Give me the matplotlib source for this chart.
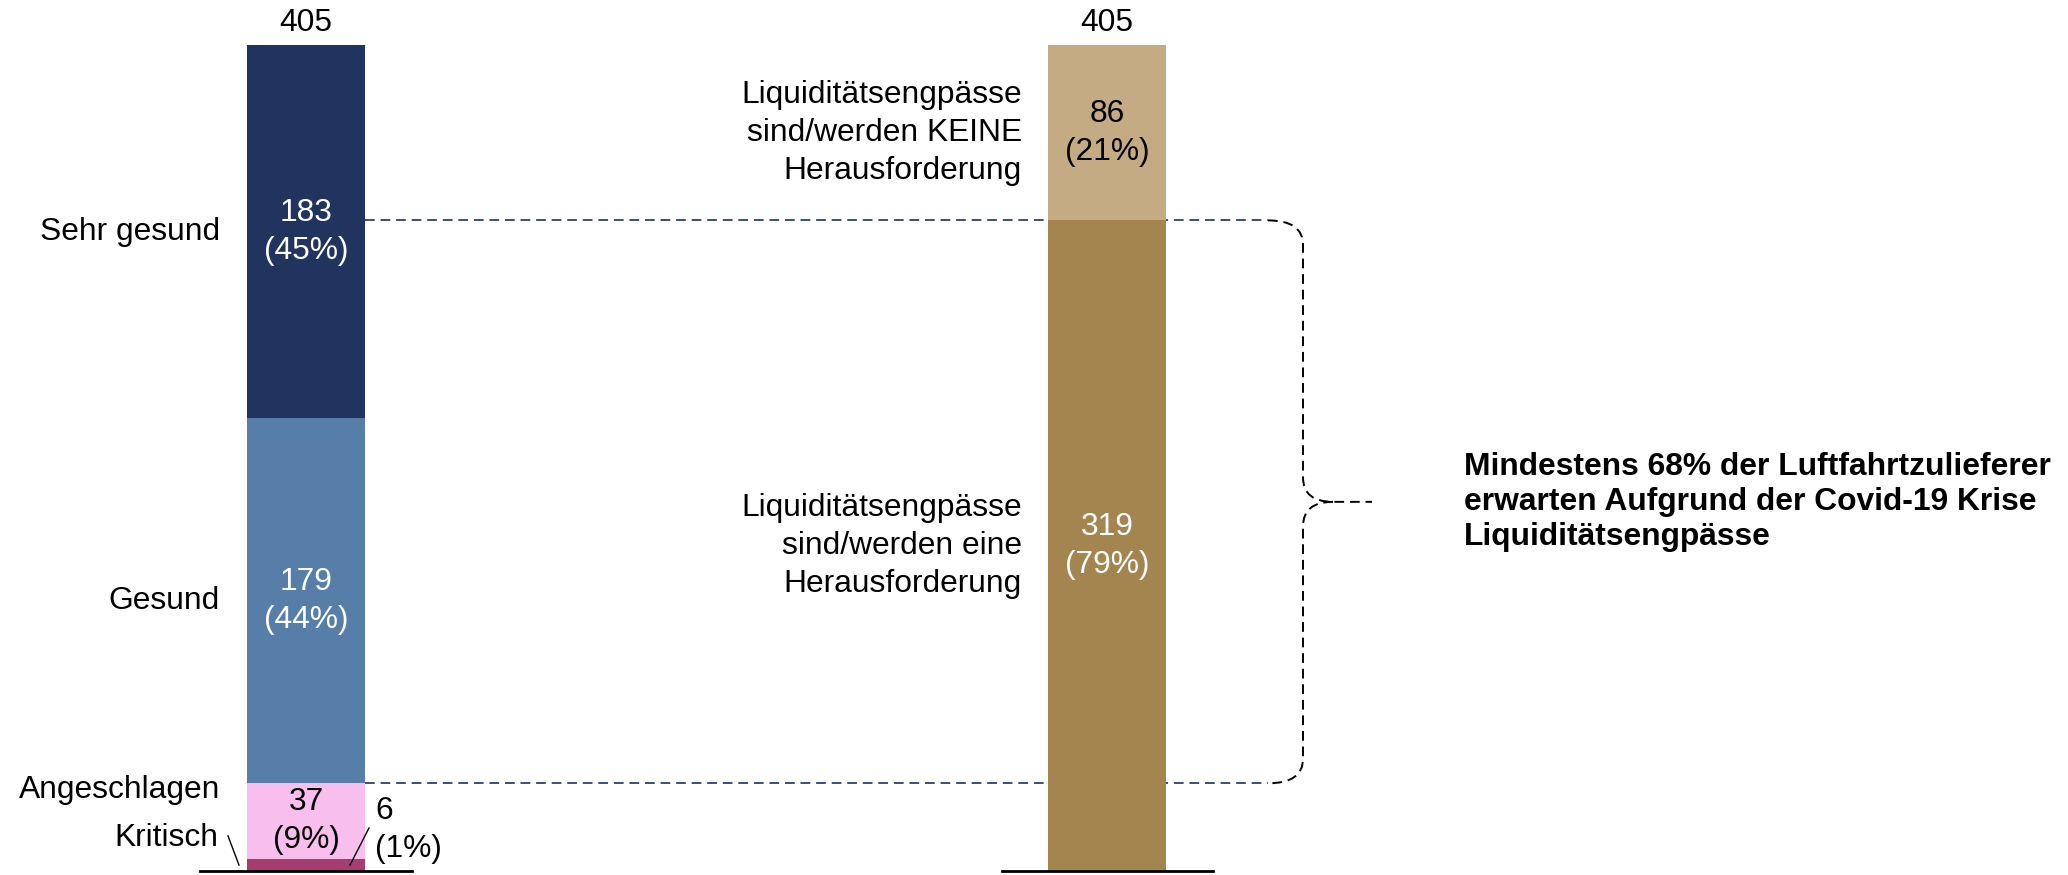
import matplotlib.pyplot as plt
from matplotlib.path import Path
from matplotlib.patches import PathPatch

plt.rcParams['font.family'] = ['Liberation Sans', 'DejaVu Sans']

# left bar: financial health of suppliers (bottom -> top)
health_labels = ['Kritisch', 'Angeschlagen', 'Gesund', 'Sehr gesund']
health_counts = [6, 37, 179, 183]
health_pct = ['1%', '9%', '44%', '45%']
health_colors = ['#A63D6F', '#F8BEEE', '#577EA8', '#21335F']

# right bar: liquidity shortage (bottom -> top)
liq_labels = ['Liquiditätsengpässe\nsind/werden eine\nHerausforderung',
              'Liquiditätsengpässe\nsind/werden KEINE\nHerausforderung']
liq_counts = [319, 86]
liq_pct = ['79%', '21%']
liq_colors = ['#A5854F', '#C5AB83']
liq_text = ['white', 'black']

total = 405
summary = 'Mindestens 68% der Luftfahrtzulieferer\nerwarten Aufgrund der Covid-19 Krise\nLiquiditätsengpässe'

fig = plt.figure(figsize=(20.68, 8.75), dpi=100)
ax = fig.add_axes([0, 0, 1, 1])
ax.set_xlim(0, 2068)
ax.set_ylim(-1.96, 427.06)
ax.axis('off')

fs = 22.9
ls = 1.34
x_left, x_right, w = 306, 1107, 118

# stacked bars
bottom = 0
for lab, c, p, col in zip(health_labels, health_counts, health_pct, health_colors):
    ax.bar(x_left, c, width=w, bottom=bottom, color=col, zorder=3)
    mid = bottom + c / 2
    if lab in ('Gesund', 'Sehr gesund'):
        ax.text(x_left, mid, f'{c}\n({p})', ha='center', va='center', color='white',
                fontsize=fs, linespacing=ls, zorder=4)
        ax.text(220, mid, lab, ha='right', va='center', fontsize=fs)
    elif lab == 'Angeschlagen':
        ax.text(x_left, mid, f'{c}\n({p})', ha='center', va='center', color='black',
                fontsize=fs, linespacing=ls, zorder=4)
        ax.text(220, bottom + c - 3.5, lab, ha='right', va='center', fontsize=fs)
    else:
        ax.text(218, 16.2, lab, ha='right', va='center', fontsize=fs)
        ax.plot([228, 239], [17.2, 2.9], color='black', lw=1, zorder=5)
        ax.text(375, 20, f'{c}\n({p})', ha='left', va='center', fontsize=fs, linespacing=ls)
        ax.plot([369, 350], [21.1, 2.9], color='black', lw=1, zorder=5)
    bottom += c

bottom = 0
for lab, c, p, col, tc in zip(liq_labels, liq_counts, liq_pct, liq_colors, liq_text):
    ax.bar(x_right, c, width=w, bottom=bottom, color=col, zorder=3)
    mid = bottom + c / 2
    ax.text(x_right, mid, f'{c}\n({p})', ha='center', va='center', color=tc,
            fontsize=fs, linespacing=ls, zorder=4)
    ax.text(1022, mid, lab, ha='right', va='center', fontsize=fs, linespacing=ls)
    bottom += c

# totals
for x in (x_left, x_right):
    ax.annotate(str(total), (x, total), xytext=(0, 5), textcoords='offset points',
                ha='center', va='bottom', fontsize=fs)

# baselines
ax.plot([200, 412], [0, 0], color='black', lw=2, zorder=5)
ax.plot([1002, 1213], [0, 0], color='black', lw=2, zorder=5)

# dashed connectors
top_v = liq_counts[0]
bot_v = health_counts[0] + health_counts[1]
mid_v = (top_v + bot_v) / 2
ax.plot([x_left + w / 2, 1268], [top_v, top_v], color='#3B4F7A', lw=1.4,
        dashes=(5, 3), zorder=1)
ax.plot([x_left + w / 2, 1268], [bot_v, bot_v], color='#3B4F7A', lw=1.4,
        dashes=(5, 3), zorder=1)

# brace
xv, xt, r = 1303, 1372, 12
verts = [(1268, top_v), (xv, top_v), (xv, top_v - r),
         (xv, mid_v + r), (xv, mid_v), (xv + 30, mid_v),
         (xt, mid_v),
         (xv + 30, mid_v), (xv, mid_v), (xv, mid_v - r),
         (xv, bot_v + r), (xv, bot_v), (1268, bot_v)]
codes = [Path.MOVETO, Path.CURVE3, Path.CURVE3,
         Path.LINETO, Path.CURVE3, Path.CURVE3,
         Path.LINETO,
         Path.MOVETO, Path.CURVE3, Path.CURVE3,
         Path.LINETO, Path.CURVE3, Path.CURVE3]
ax.add_patch(PathPatch(Path(verts, codes), fill=False, edgecolor='black', lw=1.4,
                       linestyle=(0, (5, 3)), zorder=1))

ax.text(1464, mid_v, summary, ha='left', va='center', fontsize=fs,
        fontweight='bold', linespacing=1.22)

fig.savefig('out.png', dpi=100)
